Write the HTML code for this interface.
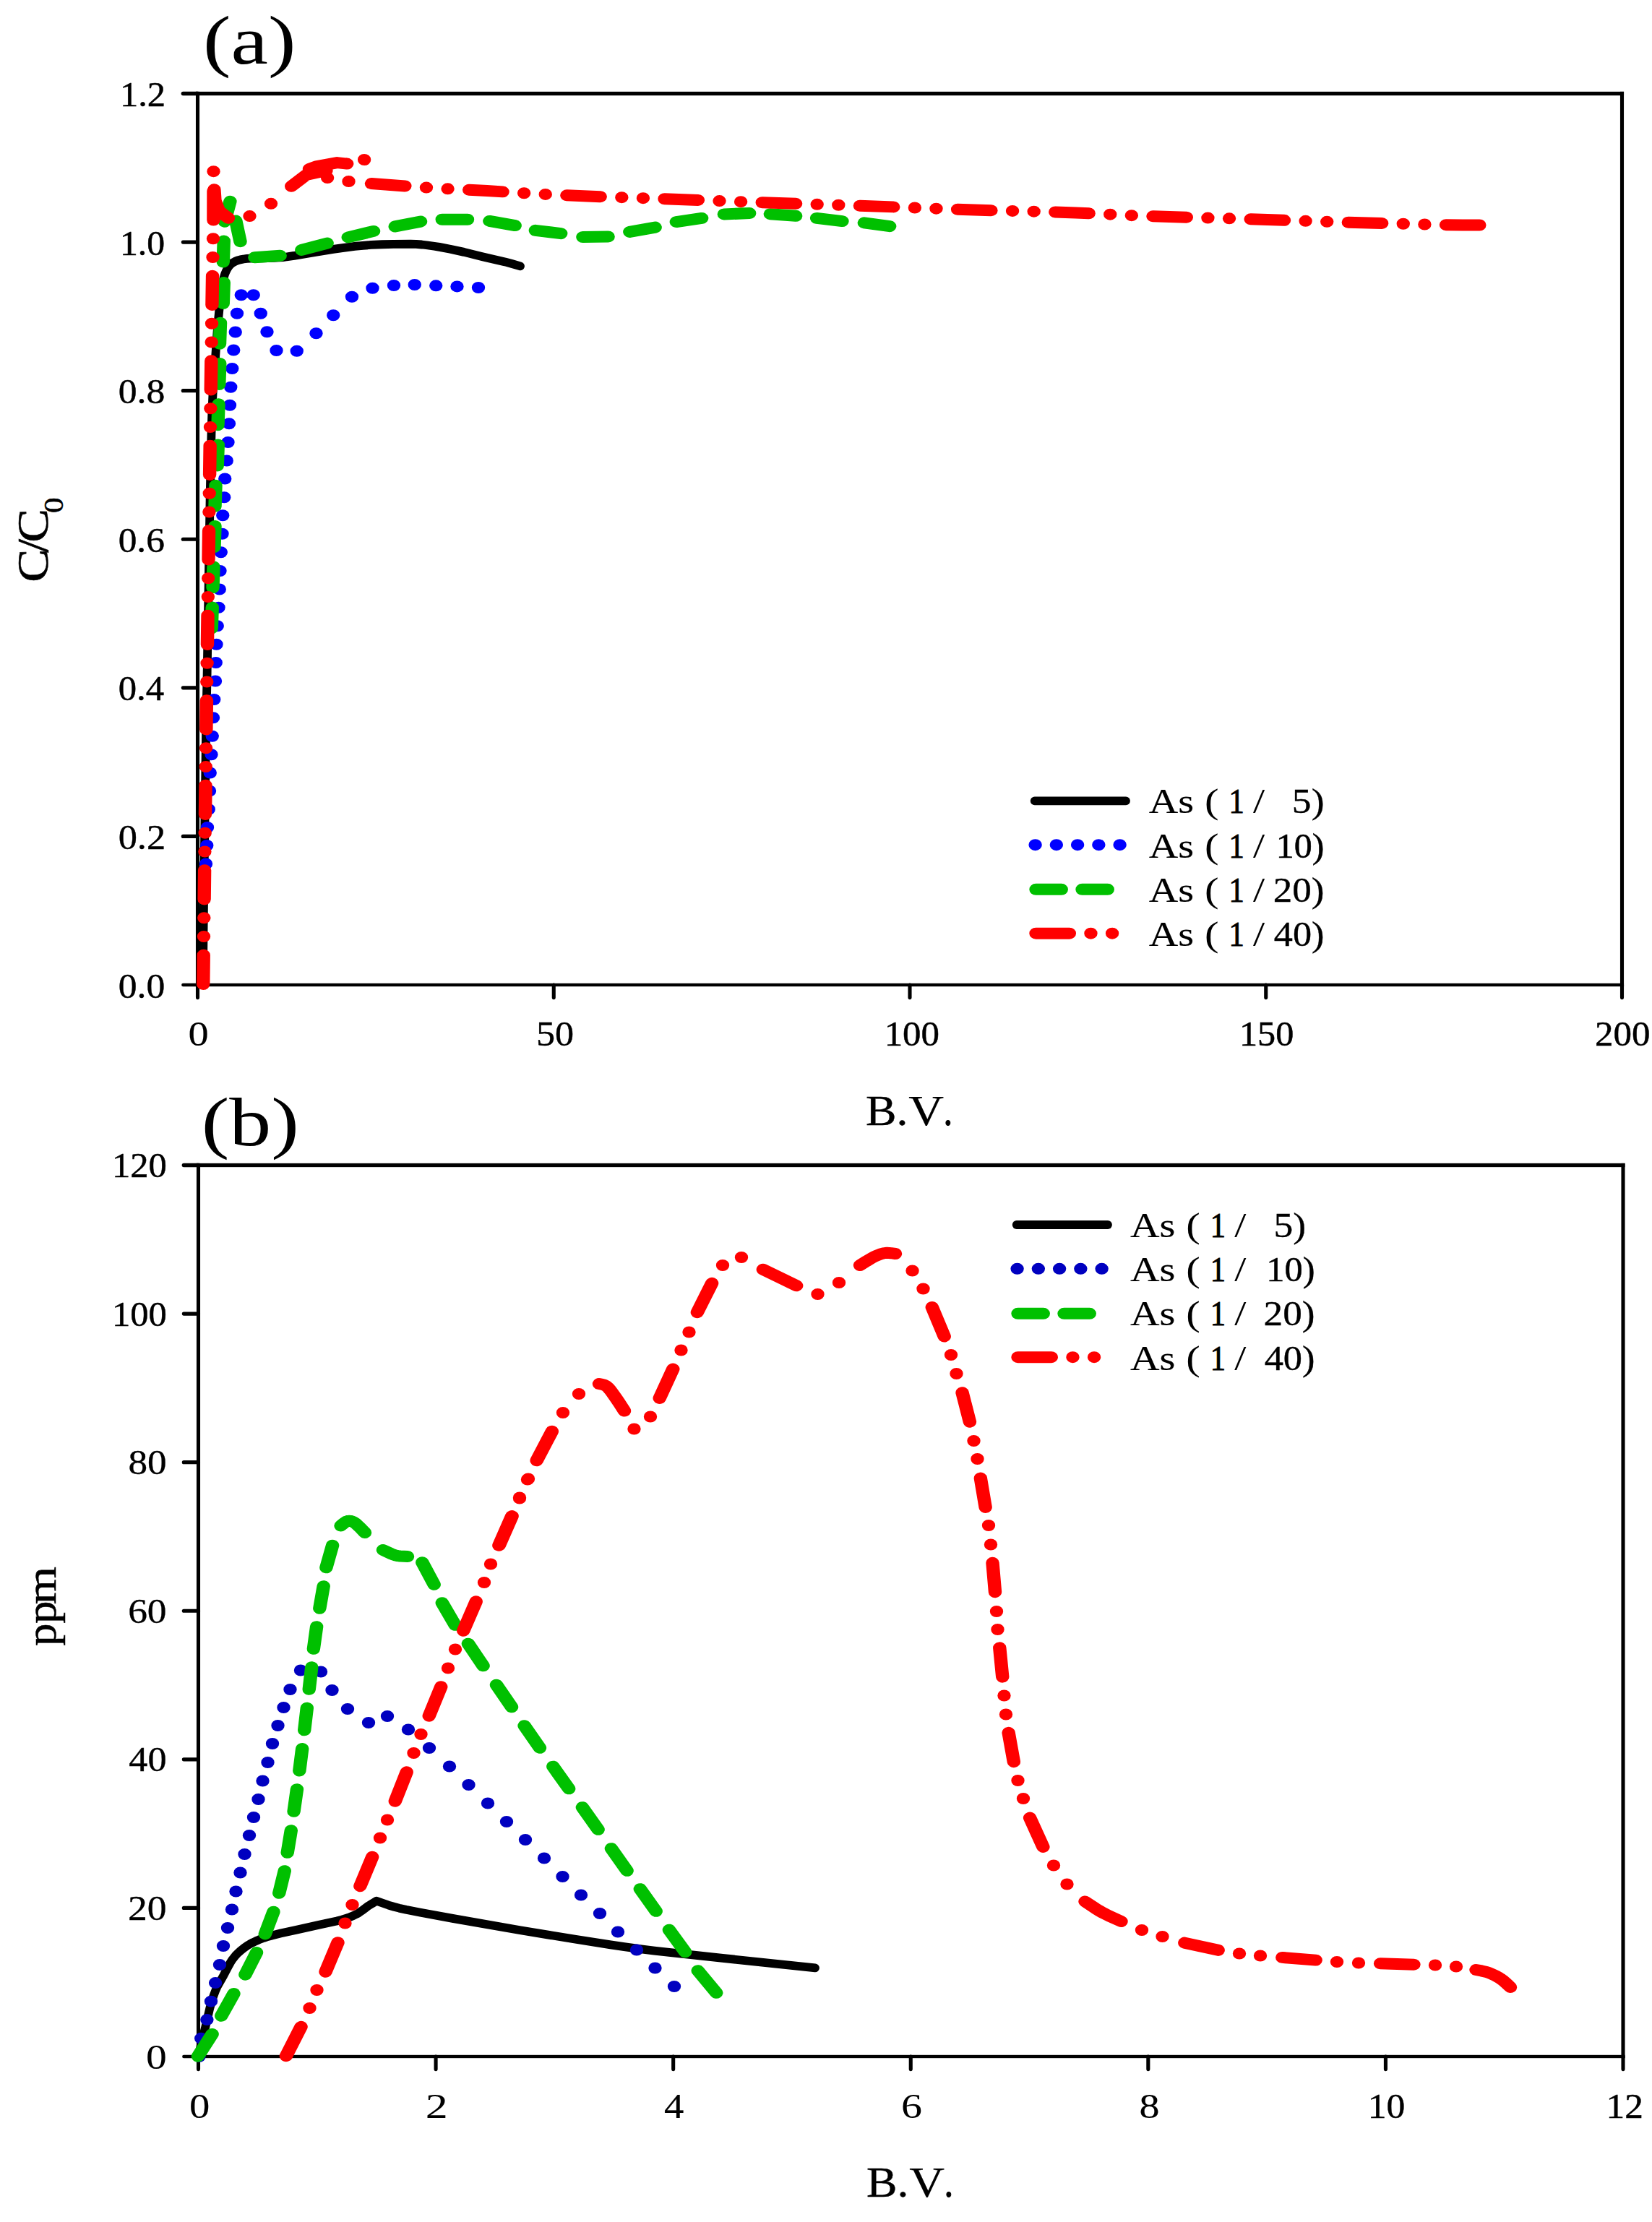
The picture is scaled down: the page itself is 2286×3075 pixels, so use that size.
<!DOCTYPE html>
<html><head><meta charset="utf-8"><title>As breakthrough curves</title>
<style>html,body{margin:0;padding:0;background:#fff}svg{display:block}text{font-family:"Liberation Serif",serif;fill:#000;stroke:#000}</style>
</head><body>
<svg width="2286" height="3075" viewBox="0 0 2286 3075">
<rect width="2286" height="3075" fill="#fff"/>
<g fill="#000" stroke="none">
<rect x="270.95" y="126.85" width="1976.10" height="5.30"/>
<rect x="270.95" y="1360.83" width="1976.10" height="4.35"/>
<rect x="270.95" y="126.85" width="5.10" height="1238.33"/>
<rect x="2241.95" y="126.85" width="5.10" height="1238.33"/>
</g>
<g stroke="#000" fill="none" stroke-linecap="round">
<path stroke-width="5.1" d="M273.50 1363.00v17.60M766.25 1363.00v17.60M1259.00 1363.00v17.60M1751.75 1363.00v17.60M2244.50 1363.00v17.60"/>
<path stroke-width="4.35" d="M273.50 1363.00h-20.20"/>
<path stroke-width="5.1" d="M273.50 1157.42h-20.20"/>
<path stroke-width="5.1" d="M273.50 951.83h-20.20"/>
<path stroke-width="5.1" d="M273.50 746.25h-20.20"/>
<path stroke-width="5.1" d="M273.50 540.67h-20.20"/>
<path stroke-width="5.1" d="M273.50 335.08h-20.20"/>
<path stroke-width="5.3" d="M273.50 129.50h-20.20"/>
</g>
<g fill="#000" stroke="none">
<rect x="271.95" y="1609.85" width="1976.60" height="5.30"/>
<rect x="271.95" y="2843.82" width="1976.60" height="4.35"/>
<rect x="271.95" y="1609.85" width="5.10" height="1238.33"/>
<rect x="2243.45" y="1609.85" width="5.10" height="1238.33"/>
</g>
<g stroke="#000" fill="none" stroke-linecap="round">
<path stroke-width="5.1" d="M274.50 2846.00v17.60M603.08 2846.00v17.60M931.67 2846.00v17.60M1260.25 2846.00v17.60M1588.83 2846.00v17.60M1917.42 2846.00v17.60M2246.00 2846.00v17.60"/>
<path stroke-width="4.35" d="M274.50 2846.00h-20.20"/>
<path stroke-width="5.1" d="M274.50 2640.42h-20.20"/>
<path stroke-width="5.1" d="M274.50 2434.83h-20.20"/>
<path stroke-width="5.1" d="M274.50 2229.25h-20.20"/>
<path stroke-width="5.1" d="M274.50 2023.67h-20.20"/>
<path stroke-width="5.1" d="M274.50 1818.08h-20.20"/>
<path stroke-width="5.3" d="M274.50 1612.50h-20.20"/>
</g>
<text transform="translate(163.66 1380.50) scale(1.0762 1)" font-size="48" stroke-width="0.42" xml:space="preserve">0.0</text>
<text transform="translate(163.63 1174.92) scale(1.0925 1)" font-size="48" stroke-width="0.37" xml:space="preserve">0.2</text>
<text transform="translate(163.70 969.33) scale(1.0560 1)" font-size="48" stroke-width="0.48" xml:space="preserve">0.4</text>
<text transform="translate(163.68 763.75) scale(1.0694 1)" font-size="48" stroke-width="0.44" xml:space="preserve">0.6</text>
<text transform="translate(163.66 558.17) scale(1.0762 1)" font-size="48" stroke-width="0.42" xml:space="preserve">0.8</text>
<text transform="translate(165.94 352.58) scale(1.0370 1)" font-size="48" stroke-width="0.54" xml:space="preserve">1.0</text>
<text transform="translate(165.88 147.00) scale(1.0534 1)" font-size="48" stroke-width="0.49" xml:space="preserve">1.2</text>
<text transform="translate(201.94 2862.60) scale(1.2010 1)" font-size="48" stroke-width="0.05" xml:space="preserve">0</text>
<text transform="translate(176.99 2657.02) scale(1.1172 1)" font-size="48" stroke-width="0.30" xml:space="preserve">20</text>
<text transform="translate(178.36 2451.43) scale(1.0875 1)" font-size="48" stroke-width="0.39" xml:space="preserve">40</text>
<text transform="translate(177.13 2245.85) scale(1.1141 1)" font-size="48" stroke-width="0.31" xml:space="preserve">60</text>
<text transform="translate(177.41 2040.27) scale(1.1081 1)" font-size="48" stroke-width="0.33" xml:space="preserve">80</text>
<text transform="translate(154.97 1834.68) scale(1.0545 1)" font-size="48" stroke-width="0.49" xml:space="preserve">100</text>
<text transform="translate(154.97 1629.10) scale(1.0545 1)" font-size="48" stroke-width="0.49" xml:space="preserve">120</text>
<text transform="translate(260.38 1447.40) scale(1.1765 1)" font-size="48" stroke-width="0.12" xml:space="preserve">0</text>
<text transform="translate(741.90 1447.40) scale(1.0866 1)" font-size="48" stroke-width="0.39" xml:space="preserve">50</text>
<text transform="translate(1223.65 1447.40) scale(1.0606 1)" font-size="48" stroke-width="0.47" xml:space="preserve">100</text>
<text transform="translate(1715.01 1447.40) scale(1.0455 1)" font-size="48" stroke-width="0.51" xml:space="preserve">150</text>
<text transform="translate(2206.90 1447.40) scale(1.0626 1)" font-size="48" stroke-width="0.46" xml:space="preserve">200</text>
<text transform="translate(262.07 2931.00) scale(1.1814 1)" font-size="48" stroke-width="0.11" xml:space="preserve">0</text>
<text transform="translate(588.71 2931.00) scale(1.2917 1)" font-size="48" stroke-width="0.00" xml:space="preserve">2</text>
<text transform="translate(919.11 2931.00) scale(1.1380 1)" font-size="48" stroke-width="0.24" xml:space="preserve">4</text>
<text transform="translate(1247.03 2931.00) scale(1.2086 1)" font-size="48" stroke-width="0.02" xml:space="preserve">6</text>
<text transform="translate(1576.40 2931.00) scale(1.1667 1)" font-size="48" stroke-width="0.15" xml:space="preserve">8</text>
<text transform="translate(1892.68 2931.00) scale(1.0762 1)" font-size="48" stroke-width="0.42" xml:space="preserve">10</text>
<text transform="translate(2222.51 2931.00) scale(1.0690 1)" font-size="48" stroke-width="0.44" xml:space="preserve">12</text>
<text transform="translate(1197.99 1556.60) scale(1.0762 1)" font-size="59.2" stroke-width="0.42" xml:space="preserve">B.</text>
<text transform="translate(1257.26 1556.60) scale(1.1407 1)" font-size="59.2" stroke-width="0.23" xml:space="preserve">V</text>
<text transform="translate(1305.50 1556.60) scale(0.8587 1)" font-size="59.2" stroke-width="1.07" xml:space="preserve">.</text>
<text transform="translate(1198.99 3039.90) scale(1.0762 1)" font-size="59.2" stroke-width="0.42" xml:space="preserve">B.</text>
<text transform="translate(1258.26 3039.90) scale(1.1407 1)" font-size="59.2" stroke-width="0.23" xml:space="preserve">V</text>
<text transform="translate(1306.50 3039.90) scale(0.8587 1)" font-size="59.2" stroke-width="1.07" xml:space="preserve">.</text>
<text transform="translate(66.20 805.67) rotate(-90) scale(1.1433 1)" font-size="60.5" stroke-width="0.5" xml:space="preserve">C</text>
<text transform="translate(66.20 764.80) rotate(-90) scale(1.1258 1)" font-size="60.5" stroke-width="0.5" xml:space="preserve">/</text>
<text transform="translate(66.20 750.70) rotate(-90) scale(1.1577 1)" font-size="60.5" stroke-width="0.5" xml:space="preserve">C</text>
<text transform="translate(86.70 709.91) rotate(-90) scale(1.1098 1)" font-size="38.8" stroke-width="0.5" xml:space="preserve">0</text>
<text transform="translate(76.70 2277.83) rotate(-90) scale(1.0709 1)" font-size="58.2" stroke-width="0.5" xml:space="preserve">pp</text>
<text transform="translate(76.70 2220.35) rotate(-90) scale(1.1570 1)" font-size="58.2" stroke-width="0.5" xml:space="preserve">m</text>
<text transform="translate(281.10 88.00) scale(1.2105 1)" font-size="95.5" stroke-width="0.02" xml:space="preserve">(a)</text>
<text transform="translate(278.68 1584.70) scale(1.2112 1)" font-size="95.7" stroke-width="0.02" xml:space="preserve">(b)</text>
<text transform="translate(1589.64 1125.20) scale(1.1698 1)" font-size="48" stroke-width="0.14" xml:space="preserve">As</text>
<text transform="translate(1667.05 1125.20) scale(1.2255 1)" font-size="48" stroke-width="0.00" xml:space="preserve">(</text>
<text transform="translate(1700.58 1125.20) scale(0.8865 1)" font-size="48" stroke-width="0.99" xml:space="preserve">1</text>
<text transform="translate(1733.90 1125.20) scale(1.2087 1)" font-size="48" stroke-width="0.02" xml:space="preserve">/</text>
<text transform="translate(1787.82 1125.20) scale(1.1177 1)" font-size="48" stroke-width="0.30" xml:space="preserve">5)</text>
<text transform="translate(1589.64 1186.55) scale(1.1698 1)" font-size="48" stroke-width="0.14" xml:space="preserve">As</text>
<text transform="translate(1667.05 1186.55) scale(1.2255 1)" font-size="48" stroke-width="0.00" xml:space="preserve">(</text>
<text transform="translate(1700.58 1186.55) scale(0.8865 1)" font-size="48" stroke-width="0.99" xml:space="preserve">1</text>
<text transform="translate(1733.90 1186.55) scale(1.2087 1)" font-size="48" stroke-width="0.02" xml:space="preserve">/</text>
<text transform="translate(1765.73 1186.55) scale(1.0412 1)" font-size="48" stroke-width="0.53" xml:space="preserve">10)</text>
<text transform="translate(1589.64 1247.90) scale(1.1698 1)" font-size="48" stroke-width="0.14" xml:space="preserve">As</text>
<text transform="translate(1667.05 1247.90) scale(1.2255 1)" font-size="48" stroke-width="0.00" xml:space="preserve">(</text>
<text transform="translate(1700.58 1247.90) scale(0.8865 1)" font-size="48" stroke-width="0.99" xml:space="preserve">1</text>
<text transform="translate(1733.90 1247.90) scale(1.2087 1)" font-size="48" stroke-width="0.02" xml:space="preserve">/</text>
<text transform="translate(1761.71 1247.90) scale(1.1061 1)" font-size="48" stroke-width="0.33" xml:space="preserve">20)</text>
<text transform="translate(1589.64 1309.25) scale(1.1698 1)" font-size="48" stroke-width="0.14" xml:space="preserve">As</text>
<text transform="translate(1667.05 1309.25) scale(1.2255 1)" font-size="48" stroke-width="0.00" xml:space="preserve">(</text>
<text transform="translate(1700.58 1309.25) scale(0.8865 1)" font-size="48" stroke-width="0.99" xml:space="preserve">1</text>
<text transform="translate(1733.90 1309.25) scale(1.2087 1)" font-size="48" stroke-width="0.02" xml:space="preserve">/</text>
<text transform="translate(1762.75 1309.25) scale(1.0892 1)" font-size="48" stroke-width="0.38" xml:space="preserve">40)</text>
<text transform="translate(1563.89 1711.70) scale(1.1698 1)" font-size="48" stroke-width="0.14" xml:space="preserve">As</text>
<text transform="translate(1641.30 1711.70) scale(1.2255 1)" font-size="48" stroke-width="0.00" xml:space="preserve">(</text>
<text transform="translate(1674.83 1711.70) scale(0.8865 1)" font-size="48" stroke-width="0.99" xml:space="preserve">1</text>
<text transform="translate(1708.15 1711.70) scale(1.2087 1)" font-size="48" stroke-width="0.02" xml:space="preserve">/</text>
<text transform="translate(1762.42 1711.70) scale(1.1177 1)" font-size="48" stroke-width="0.30" xml:space="preserve">5)</text>
<text transform="translate(1563.89 1773.00) scale(1.1698 1)" font-size="48" stroke-width="0.14" xml:space="preserve">As</text>
<text transform="translate(1641.30 1773.00) scale(1.2255 1)" font-size="48" stroke-width="0.00" xml:space="preserve">(</text>
<text transform="translate(1674.83 1773.00) scale(0.8865 1)" font-size="48" stroke-width="0.99" xml:space="preserve">1</text>
<text transform="translate(1708.15 1773.00) scale(1.2087 1)" font-size="48" stroke-width="0.02" xml:space="preserve">/</text>
<text transform="translate(1752.29 1773.00) scale(1.0499 1)" font-size="48" stroke-width="0.50" xml:space="preserve">10)</text>
<text transform="translate(1563.89 1834.30) scale(1.1698 1)" font-size="48" stroke-width="0.14" xml:space="preserve">As</text>
<text transform="translate(1641.30 1834.30) scale(1.2255 1)" font-size="48" stroke-width="0.00" xml:space="preserve">(</text>
<text transform="translate(1674.83 1834.30) scale(0.8865 1)" font-size="48" stroke-width="0.99" xml:space="preserve">1</text>
<text transform="translate(1708.15 1834.30) scale(1.2087 1)" font-size="48" stroke-width="0.02" xml:space="preserve">/</text>
<text transform="translate(1748.60 1834.30) scale(1.1094 1)" font-size="48" stroke-width="0.32" xml:space="preserve">20)</text>
<text transform="translate(1563.89 1895.60) scale(1.1698 1)" font-size="48" stroke-width="0.14" xml:space="preserve">As</text>
<text transform="translate(1641.30 1895.60) scale(1.2255 1)" font-size="48" stroke-width="0.00" xml:space="preserve">(</text>
<text transform="translate(1674.83 1895.60) scale(0.8865 1)" font-size="48" stroke-width="0.99" xml:space="preserve">1</text>
<text transform="translate(1708.15 1895.60) scale(1.2087 1)" font-size="48" stroke-width="0.02" xml:space="preserve">/</text>
<text transform="translate(1749.65 1895.60) scale(1.0925 1)" font-size="48" stroke-width="0.37" xml:space="preserve">40)</text>
<g fill="none" stroke="#000" stroke-width="11.8" stroke-linecap="round" stroke-linejoin="round"><path d="M1431.70 1108.30L1558.00 1108.30"/><path d="M1406.70 1695.00L1533.00 1695.00"/><path d="M281.00 1363.00L281.07 1335.38L281.50 1290.00L285.25 997.87L286.50 940.00L290.88 675.39L292.50 600.00L293.28 574.43L294.09 553.96L294.91 537.65L295.73 524.53L298.06 494.85L300.50 459.86L302.00 442.75L303.52 427.36L304.58 418.08L308.28 391.09L309.15 386.52L310.27 382.10L311.09 379.56L312.48 376.12L314.63 371.74L316.50 368.78L318.84 366.18L321.62 363.94L324.84 362.05L328.49 360.53L332.60 359.37L337.00 358.50L341.64 357.94L346.56 357.65L351.67 357.45L362.34 357.40L378.70 356.86L387.02 356.39L391.51 356.01L396.20 355.50L406.91 353.96L436.55 348.84L461.21 344.92L475.68 342.89L490.77 340.97L502.10 339.80L513.46 338.97L528.61 338.24L544.30 337.78L567.87 337.60L575.91 337.81L583.75 338.50L590.24 339.25L600.86 340.73L608.10 341.90L623.01 344.71L642.08 348.87L668.60 355.50L698.90 362.40L708.41 364.95L720.00 368.30"/><path d="M274.50 2846.00L278.00 2830.00L284.00 2806.30L290.25 2779.31L292.15 2772.51L294.04 2766.33L296.00 2760.58L298.09 2755.14L300.36 2749.95L301.57 2747.54L309.40 2733.80L316.31 2720.49L319.11 2715.50L321.86 2711.33L325.81 2706.36L328.53 2703.50L333.09 2699.29L338.15 2695.31L341.77 2692.83L345.60 2690.50L349.69 2688.31L354.01 2686.26L358.47 2684.35L365.22 2681.80L369.53 2680.40L376.39 2678.47L388.15 2675.60L410.20 2670.80L441.60 2663.70L466.00 2658.51L473.10 2656.70L481.80 2653.94L489.07 2651.01L493.60 2648.80L495.82 2647.55L500.01 2644.73L509.30 2637.80L514.53 2634.54L521.10 2630.70L537.62 2636.56L545.00 2638.75L552.40 2640.64L561.71 2642.78L580.74 2646.58L626.25 2654.87L720.00 2671.25L795.00 2683.55L845.00 2691.36L863.75 2694.13L887.43 2697.33L905.39 2699.55L928.24 2702.18L1000.00 2709.90L1128.00 2723.40"/></g>
<g transform="scale(1.15 1)" fill="none" stroke-linecap="round" stroke-linejoin="round">
<path d="M1245.74 1169.20h0M1271.17 1169.20h0M1296.61 1169.20h0M1322.04 1169.20h0M1347.48 1169.20h0" stroke="#0000ff" stroke-width="16.0"/>
<path d="M1246.52 1230.80L1277.22 1230.80M1302.17 1230.80L1332.87 1230.80" stroke="#00c000" stroke-width="16.0"/>
<path d="M1246.52 1291.70L1286.82 1291.70M1312.57 1291.70h0M1338.32 1291.70h0" stroke="#ff0000" stroke-width="16.0"/>
<path d="M1224.00 1755.80h0M1249.43 1755.80h0M1274.87 1755.80h0M1300.30 1755.80h0M1325.74 1755.80h0" stroke="#0000c0" stroke-width="16.0"/>
<path d="M1224.78 1817.80L1255.48 1817.80M1280.43 1817.80L1311.13 1817.80" stroke="#00c000" stroke-width="16.0"/>
<path d="M1224.78 1878.20L1265.08 1878.20M1290.83 1878.20h0M1316.58 1878.20h0" stroke="#ff0000" stroke-width="16.0"/>
<path d="M247.83 1195.50h0M248.91 1170.00h0M249.57 1145.00h0M251.09 1120.00h0M252.17 1094.50h0M252.83 1069.50h0M254.35 1044.25h0M255.43 1018.75h0M256.52 993.25h0M257.61 968.00h0M259.13 942.50h0M259.78 917.00h0M260.43 891.75h0M261.52 866.25h0M263.04 840.75h0M264.13 815.50h0M264.78 790.00h0M265.87 764.25h0M267.39 738.75h0M268.04 713.25h0M269.78 688.25h0M270.65 662.50h0M272.83 637.50h0M274.35 612.00h0M275.65 586.25h0M276.52 560.75h0M277.61 535.75h0M279.35 510.00h0M281.09 484.50h0M283.26 459.50h0M285.22 433.75h0M290.22 408.25h0M305.00 408.25h0M313.70 433.75h0M321.30 459.25h0M332.61 485.00h0M357.17 485.75h0M380.43 461.25h0M401.09 436.25h0M423.48 410.75h0M448.26 398.75h0M473.91 395.00h0M498.91 394.00h0M524.57 395.30h0M550.00 396.40h0M575.65 398.00h0" stroke="#0000ff" stroke-width="16.0"/>
<path d="M254.57 869.50L255.43 840.50M256.09 813.25L256.96 784.25M257.83 757.00L258.70 728.00M258.70 700.75L259.57 671.75M261.52 644.50L262.39 615.50M262.17 588.25L263.04 559.25M263.70 532.00L264.57 503.00M264.35 475.75L265.22 446.75M268.48 420.00L269.35 391.00M268.48 362.50L269.35 333.50M270.35 306.70L276.87 278.70M283.74 305.50L289.13 334.20M306.39 356.18L337.09 353.82M362.91 345.96L393.61 336.54M418.89 328.34L449.59 319.91M475.41 313.42L506.11 306.58M531.93 303.75L562.63 303.75M589.00 305.91L619.70 312.09M644.22 318.85L674.92 323.15M701.17 327.96L731.87 327.54M757.69 320.90L788.39 314.60M813.78 307.08L844.48 301.92M871.17 296.40L901.87 295.10M926.82 296.21L957.52 298.79M982.69 301.92L1013.39 306.08M1039.87 308.38L1070.57 313.12" stroke="#00c000" stroke-width="16.0"/>
<path d="M244.57 1362.00L244.98 1321.75M245.24 1296.00h0M245.50 1270.25h0M245.76 1244.50L246.18 1204.25M246.44 1178.50h0M246.70 1152.75h0M246.96 1127.00L247.38 1086.75M247.64 1061.00h0M247.90 1035.25h0M248.16 1009.50L248.62 969.25M248.92 943.50h0M249.22 917.75h0M249.52 892.00L249.99 851.75M250.29 826.00h0M250.59 800.25h0M250.89 774.50L251.36 734.25M251.66 708.50h0M251.96 682.75h0M252.26 657.00L252.73 616.75M253.03 591.00h0M253.35 565.25h0M253.68 539.50L254.19 499.25M254.51 473.50h0M254.83 447.75h0M255.16 422.00L255.71 381.75M256.10 356.00h0M256.50 330.25h0M256.89 304.50L256.96 264.25M256.96 237.20h0M257.74 262.20L258.70 277.90L263.48 292.10L274.78 301.80M300.43 299.10h0M326.09 281.80h0M350.61 257.70L368.61 242.00L392.52 236.10M417.30 226.60h0M438.35 221.00h0M417.57 226.60L405.65 225.10L380.52 230.40L372.17 233.90M394.00 246.10h0M419.57 251.00h0M446.96 254.00L487.26 257.44M513.01 259.61h0M538.76 261.33h0M564.51 262.70L586.09 264.00L604.81 265.36M630.56 267.26h0M656.31 268.95h0M682.06 270.36L722.36 272.15M748.11 273.20h0M773.86 274.21h0M799.61 275.24L839.91 276.92M865.66 278.04h0M891.41 279.15h0M917.16 280.24L957.46 281.85M983.21 282.82h0M1008.96 283.77h0M1034.71 284.75L1075.01 286.38M1100.76 287.52h0M1126.51 288.66h0M1152.26 289.76L1192.56 291.21M1218.31 291.95h0M1244.06 292.66h0M1269.81 293.46L1294.52 294.44L1310.11 295.23M1335.86 296.70h0M1361.61 298.13h0M1387.36 299.30L1427.66 300.72M1453.41 301.54h0M1479.16 302.37h0M1504.91 303.28L1545.21 304.82M1570.96 305.83h0M1596.71 306.80h0M1622.46 307.70L1662.76 308.99M1688.51 309.77h0M1714.26 310.50h0M1740.01 311.15L1759.88 311.44L1780.31 311.49" stroke="#ff0000" stroke-width="16.0"/>
<path d="M811.30 2749.00h0M788.26 2723.50h0M766.09 2698.50h0M743.48 2673.50h0M721.74 2648.00h0M699.13 2622.50h0M676.96 2597.00h0M654.78 2571.50h0M632.17 2546.00h0M609.57 2521.00h0M586.96 2495.50h0M563.91 2470.00h0M540.87 2444.50h0M516.52 2419.00h0M491.30 2393.50h0M466.09 2375.00h0M443.48 2384.00h0M418.26 2365.00h0M399.57 2339.00h0M386.09 2313.50h0M361.74 2311.50h0M349.13 2338.00h0M341.30 2363.00h0M334.35 2388.00h0M327.83 2413.00h0M322.17 2439.00h0M316.09 2464.50h0M310.87 2490.00h0M305.22 2515.00h0M300.00 2540.00h0M294.35 2566.00h0M289.13 2591.50h0M283.91 2617.50h0M279.13 2642.50h0M273.91 2668.00h0M268.70 2693.00h0M264.35 2719.00h0M259.22 2744.10h0M253.91 2769.70h0M249.04 2795.10h0M241.91 2820.80h0M239.57 2846.00h0" stroke="#0000c0" stroke-width="16.0"/>
<path d="M238.22 2845.65L255.34 2814.95M266.29 2789.70L281.27 2759.00M295.11 2732.65L308.72 2701.95M318.94 2676.40L329.06 2645.70M335.85 2619.85L342.41 2589.15M345.83 2563.85L350.26 2533.15M353.55 2506.85L357.32 2476.15M360.27 2450.60L363.65 2419.90M366.26 2394.35L369.39 2363.65M371.94 2337.85L375.02 2307.15M377.28 2281.85L380.98 2251.15M384.61 2225.85L389.30 2195.15M392.52 2169.35L400.09 2138.65M410.00 2111.50L413.59 2108.09L415.17 2106.74L416.76 2105.64L418.26 2105.00L419.64 2104.77L421.00 2104.76L422.36 2105.00L423.78 2105.52L425.30 2106.34L426.96 2107.50L428.93 2109.27L433.59 2114.41L439.13 2121.00M460.87 2145.00L470.52 2150.17L473.42 2151.51L476.09 2152.50L478.69 2153.11L481.47 2153.50L490.43 2154.00M508.07 2162.15L522.37 2192.85M531.98 2218.15L547.58 2248.85M563.37 2274.65L581.42 2305.35M597.35 2331.65L615.69 2362.35M630.92 2388.15L649.52 2418.85M665.49 2444.65L684.51 2475.35M700.75 2501.15L719.68 2531.85M735.55 2558.15L754.45 2588.85M770.26 2614.15L789.30 2644.85M805.13 2670.65L824.44 2701.35M839.75 2727.15L861.99 2757.85" stroke="#00c000" stroke-width="16.0"/>
<path d="M344.28 2845.15L362.24 2804.85M372.61 2779.00h0M381.30 2754.00h0M391.74 2728.65L406.52 2688.35M415.22 2661.50h0M423.91 2636.00h0M433.36 2610.15L447.95 2569.85M457.39 2543.50h0M466.09 2518.50h0M475.48 2492.65L489.31 2452.35M497.83 2426.00h0M506.52 2400.00h0M516.30 2374.65L530.66 2334.35M539.13 2308.50h0M547.83 2282.50h0M557.64 2256.65L572.79 2216.35M582.61 2190.00h0M590.43 2164.50h0M600.34 2138.65L615.75 2098.35M625.22 2073.50h0M634.78 2047.50h0M600.77 2138.40L616.19 2098.10M625.22 2072.50h0M635.65 2046.50h0M645.81 2021.15L664.19 1980.85M677.39 1955.00h0M696.52 1929.00h0M720.87 1915.00L724.97 1916.00L726.80 1916.63L728.65 1917.59L730.43 1919.00L732.18 1920.95L733.99 1923.39L735.84 1926.16L741.30 1935.00L745.07 1941.37L751.30 1952.50M763.04 1977.50h0M782.61 1960.50h0M793.64 1934.90L809.83 1894.60M819.57 1868.50h0M829.13 1843.50h0M839.02 1816.15L856.63 1775.85M869.57 1751.00h0M892.17 1740.00h0M918.11 1756.80L958.41 1779.20M983.91 1791.00h0M1009.57 1775.00h0M1034.78 1751.00L1042.66 1745.31L1049.33 1740.73L1052.17 1739.00L1054.61 1737.69L1059.02 1735.69L1063.14 1734.41L1065.22 1734.00L1067.44 1733.83L1069.79 1733.93L1072.12 1734.19L1077.39 1735.00M1097.83 1758.50h0M1110.87 1783.50h0M1121.54 1809.10L1136.29 1849.40M1144.35 1875.00h0M1150.87 1901.00h0M1157.87 1927.35L1166.91 1967.65M1171.74 1994.00h0M1176.09 2019.00h0M1179.87 2045.60L1185.78 2085.90M1189.57 2111.00h0M1192.17 2137.50h0M1194.35 2162.85L1197.38 2203.15M1199.13 2230.00h0M1200.43 2255.00h0M1202.84 2280.35L1206.29 2320.65M1208.26 2346.50h0M1210.43 2372.50h0M1213.58 2397.85L1219.90 2438.15M1224.78 2464.00h0M1231.30 2489.00h0M1239.22 2515.60L1255.13 2555.90M1267.83 2581.50h0M1283.91 2607.50h0M1305.65 2631.50L1318.33 2641.13L1322.29 2643.97L1326.09 2646.50L1334.43 2651.31L1349.13 2659.00M1373.91 2671.00h0M1398.70 2680.00h0M1425.50 2688.64L1465.80 2698.86M1491.30 2703.50h0M1516.52 2706.50h0M1542.89 2708.89L1583.19 2712.61M1608.70 2715.00h0M1634.78 2716.50h0M1660.94 2717.34L1701.24 2718.66M1726.96 2719.50h0M1752.17 2721.50h0M1776.09 2726.00L1782.74 2727.44L1788.59 2729.00L1791.30 2730.00L1793.89 2731.19L1799.18 2734.06L1804.24 2737.33L1806.52 2739.00L1808.71 2740.84L1812.91 2745.06L1817.39 2750.00" stroke="#ff0000" stroke-width="16.0"/>
</g>
</svg></body></html>
